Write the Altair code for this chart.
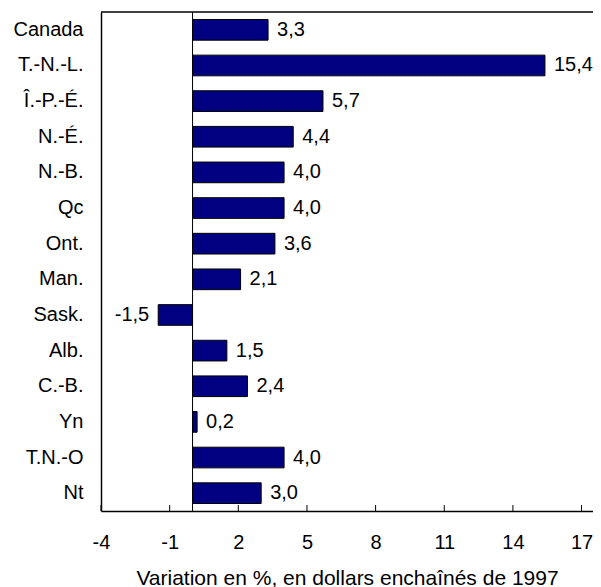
import altair as alt
import pandas as pd

categories = ["Canada", "T.-N.-L.", "Î.-P.-É.", "N.-É.", "N.-B.", "Qc", "Ont.",
              "Man.", "Sask.", "Alb.", "C.-B.", "Yn", "T.N.-O", "Nt"]
values = [3.3, 15.4, 5.7, 4.4, 4.0, 4.0, 3.6, 2.1, -1.5, 1.5, 2.4, 0.2, 4.0, 3.0]
x_ticks = [-4, -1, 2, 5, 8, 11, 14, 17]
x_title = "Variation en %, en dollars enchaînés de 1997"

FONT = "Liberation Sans"
FS = 20
W, H = 492, 499

df = pd.DataFrame({"cat": categories, "val": values})
df["lab"] = [f"{v:.1f}".replace(".", ",") for v in values]
ticks_df = pd.DataFrame({"val": x_ticks})
zero_df = pd.DataFrame({"val": [0]})

xscale = alt.Scale(domain=[-4, 17.5], nice=False, zero=False)
yscale = alt.Scale(paddingInner=0.42, paddingOuter=0.21)

xaxis = alt.Axis(values=x_ticks, title=x_title, ticks=False, grid=False,
                 domainColor="black", domainWidth=1.5, labelFlush=False,
                 labelFont=FONT, labelFontSize=FS, labelColor="black",
                 labelPadding=21, labelExpr="'' + datum.value",
                 titleFont=FONT, titleFontSize=21, titleFontWeight="normal",
                 titleColor="black", titlePadding=15)
yaxis = alt.Axis(title=None, ticks=False, grid=False, domainColor="black",
                 domainWidth=1.5, labelFont=FONT, labelFontSize=FS,
                 labelColor="black", labelPadding=18, labelLimit=300)

X = alt.X("val:Q", scale=xscale, axis=xaxis, title=x_title)
Y = alt.Y("cat:N", sort=categories, scale=yscale, axis=yaxis, title=None)

bars = alt.Chart(df).mark_bar(color="#000080", stroke="black", strokeWidth=1).encode(
    x=X, y=Y,
)

pos_text = alt.Chart(df).transform_filter("datum.val >= 0").mark_text(
    align="left", baseline="middle", dx=9, font=FONT, fontSize=FS, color="black"
).encode(x=X, y=Y, text="lab:N")

neg_text = alt.Chart(df).transform_filter("datum.val < 0").mark_text(
    align="right", baseline="middle", dx=-9, font=FONT, fontSize=FS, color="black"
).encode(x=X, y=Y, text="lab:N")

zero_line = alt.Chart(zero_df).mark_rule(color="black", strokeWidth=1).encode(
    x=X, y=alt.value(0), y2=alt.value(H),
)

tick_marks = alt.Chart(ticks_df).mark_rule(color="black", strokeWidth=1).encode(
    x=X, y=alt.value(H), y2=alt.value(H - 6),
)

top_border = alt.Chart(zero_df).mark_rule(color="black", strokeWidth=1.5).encode(
    x=alt.value(0), x2=alt.value(W), y=alt.value(0),
)

chart = alt.layer(bars, zero_line, tick_marks, top_border, pos_text, neg_text).properties(
    width=W, height=H,
    autosize=alt.AutoSizeParams(type="none"),
    padding={"left": 93, "top": 4, "right": 0, "bottom": 82},
    background="white",
).configure_view(stroke=None)

chart.save("out.html", embed_options={"renderer": "svg", "actions": False})
